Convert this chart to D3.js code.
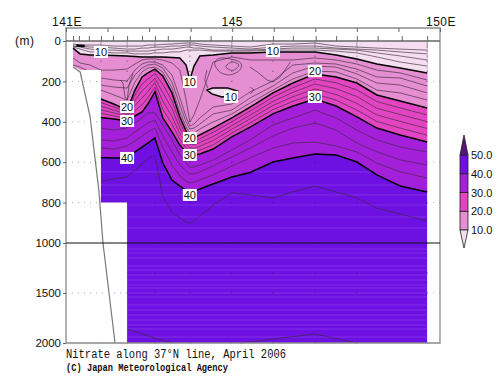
<!DOCTYPE html>
<html>
<head>
<meta charset="utf-8">
<script src="https://cdn.jsdelivr.net/npm/d3@7"></script>
<style>
html, body { margin: 0; padding: 0; background: #fff; }
svg { display: block; }
text { font-family: "Liberation Sans", Arial, sans-serif; fill: #111; }
</style>
</head>
<body>
<div class="container"></div>
<script>
const wd = 500
const ht = 387

// longitude of every depth reading below
const lons = [141.17,141.34,141.58,141.84,142.15,142.47,142.66,142.83,142.97,143.14,143.33,143.55,143.74,143.89,143.98,144.08,144.22,144.54,144.99,145.43,145.98,146.46,146.99,147.5,148,148.48,149.04,149.69]

// depth (m) of the labelled isolines
const iso10 = [35,64,69,69,72,74,77,79,79,79,79,82,84,119,193,124,74,69,59,59,54,54,54,69,89,114,134,158]
const iso20 = [287,287,287,287,312,342,243,178,158,139,173,257,376,446,475,480,465,431,381,327,257,208,163,178,208,267,297,332]
const iso30 = [376,376,378,379,386,396,371,351,312,252,381,450,515,549,564,564,559,535,475,426,361,322,287,322,376,431,465,500]
const iso40 = [574,574,574,577,579,579,549,525,505,480,604,688,718,738,747,743,733,708,673,651,599,579,559,564,599,663,718,747]

// thin isolines
const surf1 = [15,20,20,20,25,25,25,25,20,20,17,15,12,10,10,10,15,20,25,30,15,15,10,25,30,35,40,45]
const surf2 = [25,25,30,30,35,40,40,35,35,30,30,25,25,20,20,20,25,30,35,40,30,25,25,35,40,45,54,64]
const surf3 = [25,30,40,45,45,50,50,50,50,45,40,40,35,30,30,35,35,45,45,45,40,35,35,40,45,59,74,94]
const surf4 = [30,40,54,54,59,59,64,64,64,59,59,54,54,45,45,45,45,50,50,50,45,45,45,50,59,79,104,124]
const iso12 = [84,109,119,144,144,139,114,94,89,89,94,109,144,292,401,366,292,104,79,94,94,94,84,94,114,144,158,193]
const iso14 = [119,129,153,183,193,198,144,114,104,104,119,168,282,376,421,411,381,327,312,252,198,119,109,114,139,178,183,223]
const iso16 = [153,168,193,218,228,233,168,134,119,114,134,203,317,401,436,431,411,361,342,282,223,158,124,129,163,208,218,257]
const iso18 = [193,208,228,243,267,292,203,153,134,129,153,233,351,426,455,455,436,401,361,307,243,188,149,153,188,243,257,292]
const iso22 = [305,305,305,305,327,353,268,213,189,161,215,296,404,467,493,497,484,452,400,347,278,231,188,207,242,300,331,366]
const iso24 = [323,323,323,323,342,364,294,247,220,184,256,334,432,488,511,514,503,473,419,367,299,254,213,236,275,333,364,399]
const iso26 = [341,341,341,341,356,374,320,282,250,207,298,373,459,508,529,531,521,493,437,386,319,276,237,265,309,366,398,433]
const iso28 = [358,358,358,358,371,385,345,316,281,229,339,411,487,529,546,547,540,514,456,406,340,299,262,293,342,398,431,466]
const iso33 = [431,431,431,431,441,431,406,381,356,356,416,490,564,604,624,624,614,589,540,490,416,381,342,381,441,490,525,549]
const iso35 = [490,490,490,490,495,480,450,426,406,391,470,549,614,644,658,658,648,619,574,530,470,431,406,441,505,549,589,614]
const iso37 = [530,530,530,530,535,520,495,470,450,431,525,614,668,693,703,698,688,663,619,579,530,505,500,520,549,604,648,678]
const iso42 = [693,693,693,693,683,673,639,609,584,564,772,847,876,896,901,891,866,812,752,762,777,747,718,747,777,827,856,891]

// closed and partial contours, [lon, depth]
const lens10 = [[144.39,243],[144.53,233],[144.89,233],[145.13,248],[145.06,267],[144.75,277],[144.51,262]]
const loopSmall = [[144.85,124],[145,104],[145.16,119],[145.04,144],[144.9,139]]
const loopBig = [[144.58,109],[144.75,84],[145.18,104],[145.18,144],[144.94,168],[144.7,153]]
const pieces = [
  [[142.3,193],[142.37,208],[142.42,277],[142.47,292],[142.52,218],[142.61,163]],
  [[145.43,129],[145.6,153],[145.84,193],[145.98,203],[146.15,178],[146.4,104]],
  [[144.39,144],[144.34,193],[144.41,233]],
  [[145.43,228],[145.53,243],[145.43,262]],
  [[142.47,1860],[143.14,1950],[143.58,2000]],
  [[145.2,2000],[145.43,1990],[145.98,1960],[146.99,1910],[148,2000]]
]
const surfaceSpot = [[141.25,22],[141.45,25]]

// sea floor, [lon, depth]
const maskLon = [141,141.17,141.34,141.84,141.84,142.47,142.47,141]
const maskDepth = [124,124,144,144,800,800,2000,2000]
const floorLon = [141.17,141.34,141.58,141.79,141.89,142.18]
const floorDepth = [129,153,376,738,1000,2000]

// pale stripes in the deep water
const stripes = [648,713,762,812,871,926,1060,1100,1150,1230,1270,1320,1370,1420,1450,1500,1540,1620,1670,1720,1770,1820,1860,1940]

// axes
const depthTicks = [0,200,400,600,800,1000,1500,2000]
const gridDepths = [200,400,600,800,1500]
const gridEnds = [141.84,141.84,141.84,142.47,142.47]
const lonTicks = [141,142,143,144,145,146,147,148,149,150]
const lonLabels = [[141,"141E"],[145,"145"],[150,"150E"]]
const stationTicks = [141.17,141.31,141.55,141.84,142.13,142.47,142.83,143.14,143.45,143.98,144.48,144.99,145.48,145.98,146.46,147.01,147.5,148,148.5,149.08,149.69]
const stationDots = [141.84,142.47,143.14,143.98,144.99,145.98,146.99,148,149.69]
const dotDepths = [10,20,30,50,75,100,150,200,400,600,800,1000,1300,1500,2000]

// colour bar
const barLevels = [10,20,30,40,50]
const barColors = ["#e58ed2","#e344c2","#a41fd9","#6e10e2"]
const paleColor = "#f4deef"
const capColor = "#591477"
const contourLabels = [
  [141.84,54,"10"],[143.98,203,"10"],[144.97,277,"10"],[145.98,50,"10"],
  [142.47,327,"20"],[143.98,480,"20"],[146.99,149,"20"],
  [142.47,396,"30"],[143.98,564,"30"],[146.99,277,"30"],
  [142.47,579,"40"],[143.98,762,"40"]
]

const svgC = d3.select(".container")
.append("svg")
.attr("height", ht)
.attr("width", wd)

const x = d3.scaleLinear().domain([141,150]).range([66,440])
const y = d3.scaleLinear().domain([0,1000,2000]).range([41,243,343])

const lineObj = d3.line()
.x((d,i)=> x(lons[i]))
.y(d=> y(d))

const pairLine = d3.line()
.x(d=> x(d[0]))
.y(d=> y(d[1]))

const closedLine = d3.line()
.x(d=> x(d[0]))
.y(d=> y(d[1]))
.curve(d3.curveCardinalClosed)

const lensLine = d3.line()
.x(d=> x(d[0]))
.y(d=> y(d[1]))
.curve(d3.curveLinearClosed)

const areaObj = d3.area()
.x((d,i)=> x(lons[i]))
.y0(y(0))
.y1(d=> y(d))

// filled bands, deepest first and painted over each other
const dataLeft = lons[0]
const dataRight = lons[lons.length-1]
svgC.append("rect")
.attr("x", x(dataLeft))
.attr("y", y(0))
.attr("width", x(dataRight)-x(dataLeft))
.attr("height", y(2000)-y(0))
.attr("fill", barColors[3])

stripes.forEach(s=>{
  svgC.append("line")
  .attr("x1", x(dataLeft)).attr("x2", x(dataRight))
  .attr("y1", y(s)).attr("y2", y(s))
  .style("stroke", "#9a55ee")
  .style("stroke-width", "1px")
  .style("stroke-opacity", "0.45")
})

const bands = [[iso40,barColors[2]],[iso30,barColors[1]],[iso20,barColors[0]],[iso10,paleColor]]
bands.forEach(b=>{
  svgC.append("path")
  .attr("d", areaObj(b[0]))
  .attr("fill", b[1])
})

svgC.append("path")
.attr("d", lensLine(lens10))
.attr("fill", paleColor)

stationDots.forEach(l=>{
  dotDepths.forEach(d=>{
    svgC.append("rect")
    .attr("x", x(l)-0.5).attr("y", y(d)-0.5)
    .attr("width", 1).attr("height", 1)
    .attr("fill", "#222")
    .attr("opacity", 0.7)
  })
})

// thin isolines
const thinLines = [surf1,surf2,surf3,surf4,iso12,iso14,iso16,iso18,iso22,iso24,iso26,iso28,iso33,iso35,iso37,iso42]
thinLines.forEach(t=>{
  svgC.append("path")
  .attr("d", lineObj(t))
  .attr("fill", "none")
  .style("stroke", "#3a2a3a")
  .style("stroke-width", "0.8px")
  .style("stroke-opacity", "0.8")
})
pieces.forEach(p=>{
  svgC.append("path")
  .attr("d", pairLine(p))
  .attr("fill", "none")
  .style("stroke", "#3a2a3a")
  .style("stroke-width", "0.8px")
  .style("stroke-opacity", "0.8")
})
;[loopSmall,loopBig].forEach(p=>{
  svgC.append("path")
  .attr("d", closedLine(p))
  .attr("fill", "none")
  .style("stroke", "#3a2a3a")
  .style("stroke-width", "0.8px")
  .style("stroke-opacity", "0.8")
})

// thick isolines
;[iso10,iso20,iso30,iso40].forEach(t=>{
  svgC.append("path")
  .attr("d", lineObj(t))
  .attr("fill", "none")
  .style("stroke", "#000")
  .style("stroke-width", "1.5px")
})
svgC.append("path")
.attr("d", lensLine(lens10))
.attr("fill", "none")
.style("stroke", "#000")
.style("stroke-width", "1.5px")
svgC.append("path")
.attr("d", pairLine(surfaceSpot))
.attr("fill", "none")
.style("stroke", "#000")
.style("stroke-width", "2.5px")

// sea floor, over the isolines
svgC.append("path")
.attr("d", d3.line().x(d=>x(d[0])).y(d=>y(d[1]))(maskLon.map((l,i)=>[l,maskDepth[i]])))
.attr("fill", "#fff")
svgC.append("path")
.attr("d", pairLine(floorLon.map((l,i)=>[l,floorDepth[i]])))
.attr("fill", "none")
.style("stroke", "#777")
.style("stroke-width", "1.2px")

// dotted grid, only on the white parts
gridDepths.forEach((g,i)=>{
  svgC.append("line")
  .attr("x1", x(141)).attr("x2", x(gridEnds[i]))
  .attr("y1", y(g)).attr("y2", y(g))
  .style("stroke", "#aaa")
  .style("stroke-width", "1px")
  .style("stroke-dasharray", "1,5")
  svgC.append("line")
  .attr("x1", x(dataRight)).attr("x2", x(150))
  .attr("y1", y(g)).attr("y2", y(g))
  .style("stroke", "#aaa")
  .style("stroke-width", "1px")
  .style("stroke-dasharray", "1,5")
})

// contour labels
contourLabels.forEach(c=>{
  svgC.append("rect")
  .attr("x", x(c[0])-7).attr("y", y(c[1])-6)
  .attr("width", 14).attr("height", 12)
  .attr("fill", "#fff")
  svgC.append("text")
  .attr("x", x(c[0])).attr("y", y(c[1])+4)
  .attr("text-anchor", "middle")
  .style("font-size", "11px")
  .text(c[2])
})

// frame
svgC.append("path")
.attr("d", `M${x(141)},${y(2000)}V${y(0)-13}H${x(150)}V${y(2000)}Z`)
.attr("fill", "none")
.style("stroke", "#8a8a8a")
.style("stroke-width", "1.3px")
svgC.append("line")
.attr("x1", x(141)).attr("x2", x(150))
.attr("y1", y(0)).attr("y2", y(0))
.style("stroke", "#666")
.style("stroke-width", "1.3px")
svgC.append("line")
.attr("x1", x(141)).attr("x2", x(150))
.attr("y1", y(1000)).attr("y2", y(1000))
.style("stroke", "#111")
.style("stroke-width", "1px")

// axes
const topAxis = svgC.append("g")
.attr("transform", `translate(0,${y(0)-13})`)
.call(d3.axisBottom(x).tickValues(lonTicks).tickSize(4).tickFormat(""))
const stationAxis = svgC.append("g")
.attr("transform", `translate(0,${y(0)})`)
.call(d3.axisTop(x).tickValues(stationTicks).tickSize(5).tickFormat(""))
const leftAxis = svgC.append("g")
.attr("transform", `translate(${x(141)},0)`)
.call(d3.axisLeft(y).tickValues(depthTicks).tickSize(3).tickPadding(2).tickFormat(d=>d))
;[topAxis,stationAxis,leftAxis].forEach(a=>{
  a.select(".domain").remove()
  a.selectAll("line").style("stroke", "#666")
})
leftAxis.selectAll("text")
.style("font-size", "11.5px")
.style("font-family", '"Liberation Sans", Arial, sans-serif')
.style("fill", "#111")

lonLabels.forEach(l=>{
  svgC.append("text")
  .attr("x", x(l[0])).attr("y", 26)
  .attr("text-anchor", l[0]===145 ? "middle" : "start")
  .attr("dx", l[0]===145 ? 0 : -14)
  .style("font-size", "12px")
  .style("letter-spacing", "0.5px")
  .text(l[1])
})
svgC.append("text")
.attr("x", 15).attr("y", 45)
.style("font-size", "12px")
.style("letter-spacing", "0.5px")
.text("(m)")

// titles
svgC.append("text")
.attr("x", 66).attr("y", 358)
.attr("textLength", 220)
.attr("lengthAdjust", "spacingAndGlyphs")
.style("font-family", '"Liberation Mono", monospace')
.style("font-size", "12.5px")
.text("Nitrate along 37°N line, April 2006")
svgC.append("text")
.attr("x", 66).attr("y", 371)
.attr("textLength", 162)
.attr("lengthAdjust", "spacingAndGlyphs")
.style("font-family", '"Liberation Mono", monospace')
.style("font-weight", "bold")
.style("font-size", "10.5px")
.text("(C) Japan Meteorological Agency")

// colour bar
const barY = d3.scaleLinear().domain([10,50]).range([230,155])
const barX0 = 460
const barX1 = 468
barColors.forEach((c,i)=>{
  svgC.append("rect")
  .attr("x", barX0).attr("y", barY(barLevels[i+1]))
  .attr("width", barX1-barX0)
  .attr("height", barY(barLevels[i])-barY(barLevels[i+1]))
  .attr("fill", c)
  .style("stroke", "#222")
  .style("stroke-width", "0.8px")
})
svgC.append("path")
.attr("d", `M${barX0},${barY(50)}L${(barX0+barX1)/2},${barY(50)-20}L${barX1},${barY(50)}Z`)
.attr("fill", capColor)
.style("stroke", "#222")
.style("stroke-width", "0.8px")
svgC.append("path")
.attr("d", `M${barX0},${barY(10)}L${(barX0+barX1)/2},${barY(10)+18}L${barX1},${barY(10)}Z`)
.attr("fill", paleColor)
.style("stroke", "#222")
.style("stroke-width", "0.8px")
barLevels.forEach(l=>{
  svgC.append("text")
  .attr("x", 471).attr("y", barY(l)+4)
  .style("font-size", "11px")
  .text(l.toFixed(1))
})
</script>
</body>
</html>
